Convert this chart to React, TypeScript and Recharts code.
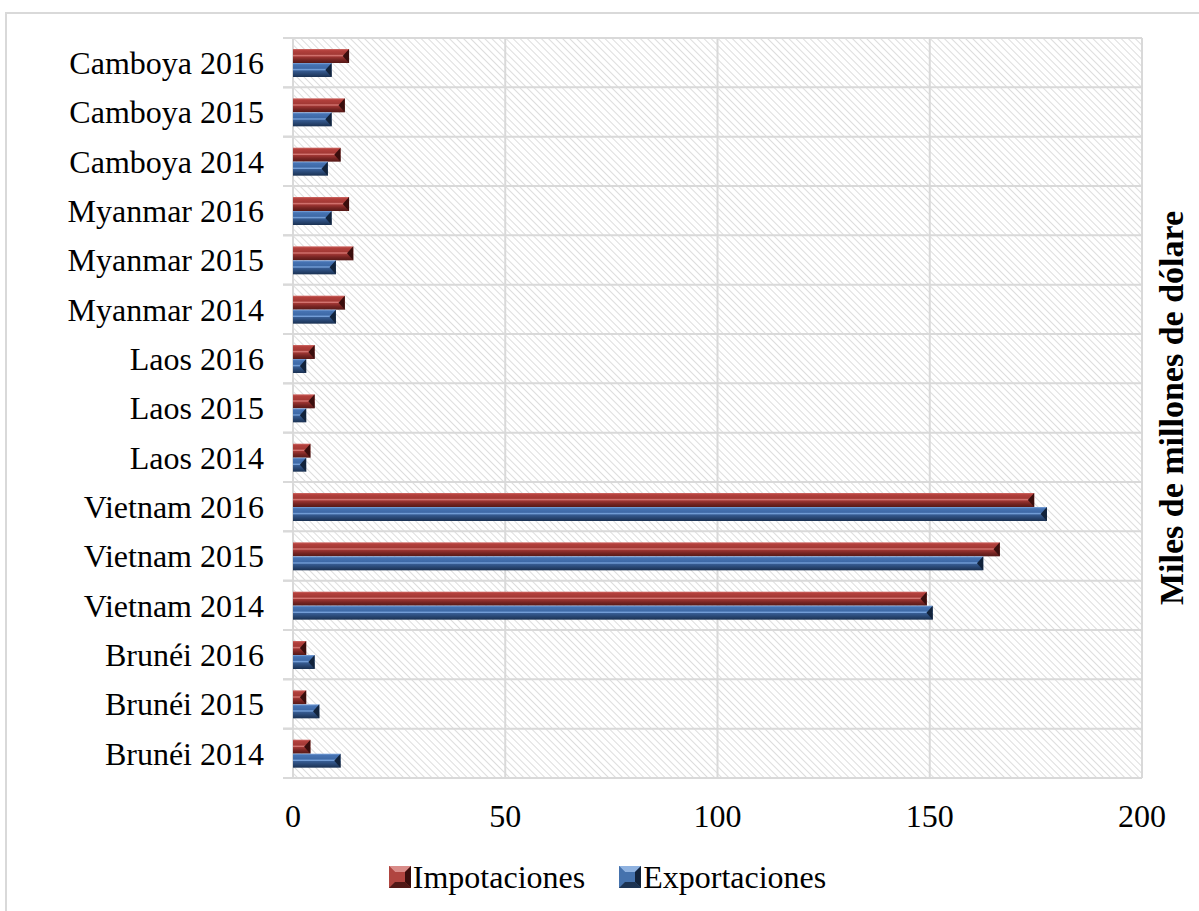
import React from "react";
import {
  BarChart,
  Bar,
  XAxis,
  YAxis,
  CartesianGrid,
  Legend,
} from "recharts";

// categories, bottom to top as in the original chart
const categories = [
  "Brunéi 2014",
  "Brunéi 2015",
  "Brunéi 2016",
  "Vietnam 2014",
  "Vietnam 2015",
  "Vietnam 2016",
  "Laos 2014",
  "Laos 2015",
  "Laos 2016",
  "Myanmar 2014",
  "Myanmar 2015",
  "Myanmar 2016",
  "Camboya 2014",
  "Camboya 2015",
  "Camboya 2016",
];

const impotaciones = [4.1, 3.1, 3.1, 149.3, 166.5, 174.6, 4.1, 5.1, 5.1, 12.2, 14.2, 13.2, 11.2, 12.2, 13.2];
const exportaciones = [11.2, 6.2, 5.1, 150.7, 162.6, 177.6, 3.1, 3.1, 3.1, 10.1, 10.1, 9.1, 8.2, 9.1, 9.1];

const xTicks = [0, 50, 100, 150, 200];
const legendOrder = ["imp", "exp"];

const data = categories.map((name, i) => ({
  name,
  imp: impotaciones[i],
  exp: exportaciones[i],
}));

const FONT = '"Liberation Serif", "Times New Roman", serif';
const GRID = "#d9d9d9";

const SERIES = {
  imp: { grad: "redGrad", dark: "#3a0e0d", light: "#d98c89", main: "#b04540" },
  exp: { grad: "blueGrad", dark: "#12233b", light: "#8fb2e0", main: "#4572ad" },
};

// horizontal grid at the edges of every category band
function bandEdges({ yAxis, offset }: any) {
  try {
    const scale = yAxis && yAxis.scale;
    const bw = scale && typeof scale.bandwidth === "function" ? scale.bandwidth() : undefined;
    const at = (c: string) =>
      typeof scale === "function" ? scale(c) : scale && typeof scale.map === "function" ? scale.map(c) : undefined;
    if (bw !== undefined) {
      const edges = new Set<number>();
      categories.forEach((c) => {
        const s = at(c);
        if (typeof s === "number" && !isNaN(s)) {
          edges.add(Math.round(s * 10) / 10);
          edges.add(Math.round((s + bw) * 10) / 10);
        }
      });
      if (edges.size > 0) return Array.from(edges);
    }
  } catch (e) {
    // fall through to the even split below
  }
  const step = offset.height / categories.length;
  return categories.map((_, i) => offset.top + i * step).concat(offset.top + offset.height);
}

function CategoryTick(props: any) {
  const { x, y, payload, height, visibleTicksCount } = props;
  let half = payload && payload.offset ? payload.offset : 0;
  if (!half && height && visibleTicksCount) half = height / visibleTicksCount / 2;
  return (
    <g>
      <text
        x={x}
        y={y}
        dy="0.35em"
        textAnchor="end"
        fill="#000"
        fontSize={32}
        fontFamily={FONT}
      >
        {payload.value}
      </text>
      {half > 0 && (
        <>
          <line x1={x + 19} x2={x + 29} y1={y - half} y2={y - half} stroke={GRID} strokeWidth={2} />
          <line x1={x + 19} x2={x + 29} y1={y + half} y2={y + half} stroke={GRID} strokeWidth={2} />
        </>
      )}
    </g>
  );
}

function BevelBar(props: any) {
  const { x, y, width, height, grad, dark } = props;
  if (!width || width <= 0) return null;
  const b = Math.min(height * 0.45, width / 2);
  return (
    <g>
      <rect x={x} y={y} width={width} height={height} fill={`url(#${grad})`} />
      <polygon
        points={`${x + width},${y} ${x + width - b},${y + height / 2} ${x + width},${y + height}`}
        fill={dark}
      />
    </g>
  );
}

function LegendIcon({ s }: { s: typeof SERIES.imp }) {
  return (
    <svg width={22} height={22} style={{ display: "block" }}>
      <rect x={0} y={0} width={22} height={22} fill={s.main} />
      <polygon points="0,0 22,0 16,6 6,6" fill={s.light} />
      <polygon points="0,0 6,6 6,16 0,22" fill={s.main} />
      <polygon points="22,0 22,22 16,16 16,6" fill={s.dark} />
      <polygon points="0,22 22,22 16,16 6,16" fill={s.dark} opacity={0.8} />
    </svg>
  );
}

function renderLegend(props: any) {
  const payload = [...(props.payload || [])].sort(
    (a: any, b: any) => legendOrder.indexOf(a.dataKey) - legendOrder.indexOf(b.dataKey)
  );
  return (
    <div
      style={{
        display: "flex",
        justifyContent: "center",
        alignItems: "center",
        gap: 34,
        fontFamily: FONT,
        fontSize: 32,
        color: "#000",
        lineHeight: "34px",
      }}
    >
      {payload.map((entry: any) => (
        <div key={entry.value} style={{ display: "flex", alignItems: "center", gap: 2 }}>
          <LegendIcon s={SERIES[entry.dataKey as "imp" | "exp"]} />
          <span>{entry.value}</span>
        </div>
      ))}
    </div>
  );
}

export default function App() {
  return (
    <div
      style={{
        position: "absolute",
        left: 0,
        top: 0,
        width: 1199,
        height: 911,
        background: "#fff",
        overflow: "hidden",
      }}
    >
      {/* outer frame, only top and left edges are visible */}
      <div
        style={{
          position: "absolute",
          left: 5,
          top: 12,
          width: 1200,
          height: 910,
          borderLeft: `2px solid ${GRID}`,
          borderTop: `2px solid ${GRID}`,
        }}
      />

      <div style={{ position: "absolute", left: 0, top: 0 }}>
        <BarChart
          width={1199}
          height={911}
          data={data}
          layout="vertical"
          margin={{ top: 38, right: 0, bottom: 83, left: 0 }}
          barSize={14}
          barGap={0}
        >
          <defs>
            <pattern
              id="hatch"
              width="5"
              height="5"
              patternUnits="userSpaceOnUse"
              patternTransform="rotate(-45)"
            >
              <rect width="5" height="5" fill="#ffffff" />
              <line x1="0" y1="0" x2="0" y2="5" stroke="#d2d2d2" strokeWidth="1.5" />
            </pattern>
            <linearGradient id="redGrad" x1="0" y1="0" x2="0" y2="1">
              <stop offset="0" stopColor="#d06c68" />
              <stop offset="0.12" stopColor="#b3403c" />
              <stop offset="0.38" stopColor="#a33935" />
              <stop offset="0.48" stopColor="#d87a76" />
              <stop offset="0.56" stopColor="#9e3633" />
              <stop offset="0.78" stopColor="#752422" />
              <stop offset="1" stopColor="#561917" />
            </linearGradient>
            <linearGradient id="blueGrad" x1="0" y1="0" x2="0" y2="1">
              <stop offset="0" stopColor="#7fa6dc" />
              <stop offset="0.12" stopColor="#4673b3" />
              <stop offset="0.38" stopColor="#3e69a6" />
              <stop offset="0.48" stopColor="#7aa5de" />
              <stop offset="0.56" stopColor="#365b91" />
              <stop offset="0.78" stopColor="#284672" />
              <stop offset="1" stopColor="#1a3152" />
            </linearGradient>
          </defs>

          <CartesianGrid
            yAxisId="cat"
            fill="url(#hatch)"
            fillOpacity={1}
            stroke={GRID}
            strokeWidth={2}
            horizontalCoordinatesGenerator={bandEdges}
          />

          <XAxis
            type="number"
            domain={[0, 200]}
            ticks={xTicks}
            axisLine={false}
            tickLine={false}
            tickSize={0}
            tickMargin={26}
            height={50}
            tick={{ fill: "#000", fontSize: 32, fontFamily: FONT }}
          />

          <YAxis
            yAxisId="cat"
            type="category"
            dataKey="name"
            reversed
            interval={0}
            width={293}
            axisLine={false}
            tickLine={false}
            tickSize={0}
            tickMargin={29}
            tick={<CategoryTick />}
          />

          <YAxis
            yAxisId="title"
            orientation="right"
            type="number"
            domain={[0, 1]}
            width={57}
            tick={false}
            axisLine={false}
            tickLine={false}
            label={{
              value: "Miles de millones de dólare",
              angle: -90,
              position: "center",
              fill: "#000",
              fontSize: 34,
              fontWeight: "bold",
              fontFamily: FONT,
            }}
          />

          <Legend
            verticalAlign="middle"
            layout="horizontal"
            align="center"
            content={renderLegend}
            wrapperStyle={{ top: 860, left: 8, width: 1199 }}
          />

          <Bar
            yAxisId="cat"
            dataKey="imp"
            name="Impotaciones"
            fill={SERIES.imp.main}
            isAnimationActive={false}
            shape={(p: any) => <BevelBar {...p} grad={SERIES.imp.grad} dark={SERIES.imp.dark} />}
          />
          <Bar
            yAxisId="cat"
            dataKey="exp"
            name="Exportaciones"
            fill={SERIES.exp.main}
            isAnimationActive={false}
            shape={(p: any) => <BevelBar {...p} grad={SERIES.exp.grad} dark={SERIES.exp.dark} />}
          />
        </BarChart>
      </div>
    </div>
  );
}
